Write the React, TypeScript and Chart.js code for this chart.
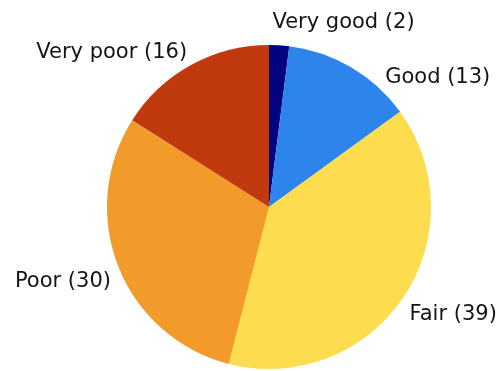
import React, { useEffect, useRef } from "react";
import { Chart, registerables } from "chart.js";

Chart.register(...registerables);

const categories = ["Very good", "Good", "Fair", "Poor", "Very poor"];
const counts = [2, 13, 39, 30, 16];
const sliceColors = ["#03037f", "#2d84ea", "#fedc4f", "#f29a2a", "#c0390f"];

// per-label nudges (angle in degrees, radial extra in px) to mimic reference placement
const labelNudges = [
  { da: -2.5, dr: 9 },
  { da: 12.5, dr: 0 },
  { da: 0, dr: 0 },
  { da: 0, dr: 0 },
  { da: 0, dr: 0 },
];

const outsideLabels = {
  id: "outsideLabels",
  afterDatasetsDraw(chart: any) {
    const ctx = chart.ctx;
    const meta = chart.getDatasetMeta(0);
    ctx.save();
    ctx.font = "21px 'DejaVu Sans'";
    ctx.fillStyle = "#151515";
    ctx.textBaseline = "alphabetic";
    meta.data.forEach((arc: any, i: number) => {
      const { x, y, startAngle, endAngle, outerRadius } = arc.getProps(
        ["x", "y", "startAngle", "endAngle", "outerRadius"],
        true
      );
      const nudge = labelNudges[i];
      const mid = (startAngle + endAngle) / 2 + (nudge.da * Math.PI) / 180;
      const r = outerRadius + 8 + nudge.dr;
      const ax = x + Math.cos(mid) * r;
      const ay = y + Math.sin(mid) * r;
      ctx.textAlign = ax >= x ? "left" : "right";
      const by = ay < y ? ay : ay + 17;
      ctx.fillText(`${categories[i]} (${counts[i]})`, ax, by);
    });
    ctx.restore();
  },
};

export default function App() {
  const ref = useRef<HTMLCanvasElement | null>(null);
  useEffect(() => {
    if (!ref.current) return;
    const chart = new Chart(ref.current, {
      type: "pie",
      data: {
        labels: categories,
        datasets: [
          {
            data: counts,
            backgroundColor: sliceColors,
            borderWidth: 0,
          },
        ],
      },
      options: {
        animation: false,
        responsive: false,
        maintainAspectRatio: false,
        layout: { padding: { left: 107, right: 69, top: 45, bottom: 2 } },
        plugins: {
          legend: { display: false },
          tooltip: { enabled: false },
        },
      },
      plugins: [outsideLabels],
    });
    return () => chart.destroy();
  }, []);
  return (
    <div style={{ position: "fixed", left: 0, top: 0, width: 500, height: 371, background: "#ffffff" }}>
      <canvas ref={ref} width={500} height={371} style={{ width: 500, height: 371 }} />
    </div>
  );
}
